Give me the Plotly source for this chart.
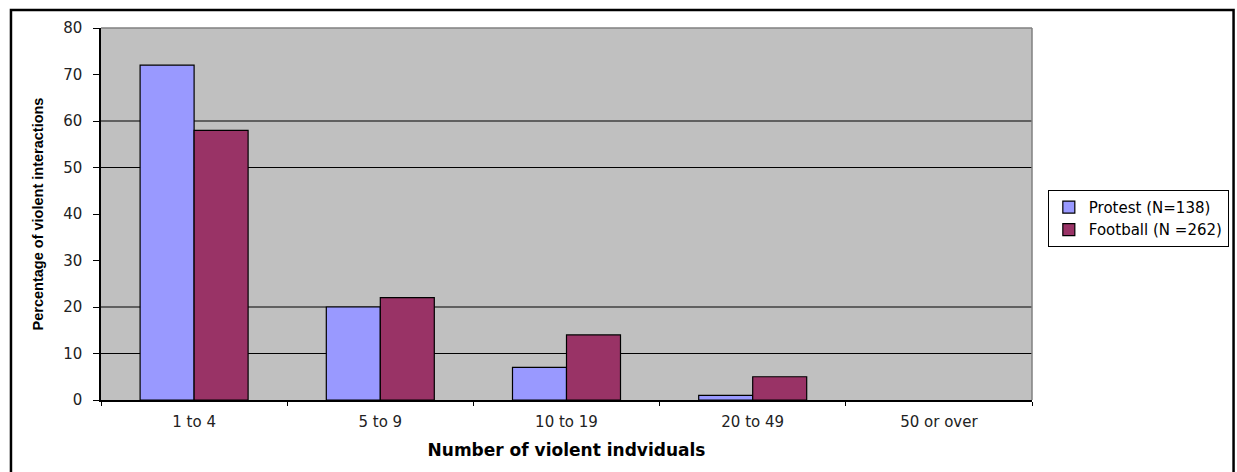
import plotly.graph_objects as go

categories = ["1 to 4", "5 to 9", "10 to 19", "20 to 49", "50 or over"]
protest = [72, 20, 7, 1, 0]
football = [58, 22, 14, 5, 0]
series_names = ["Protest (N=138)", "Football (N =262)"]
grid_values = [10, 20, 50, 60]
y_ticks = [0, 10, 20, 30, 40, 50, 60, 70, 80]

FONT = "DejaVu Sans, Verdana, sans-serif"


def outline_widths(values):
    return [1.2 if v > 0 else 0 for v in values]


fig = go.Figure()
fig.add_trace(go.Bar(x=categories, y=protest, name=series_names[0],
                     marker=dict(color="#9999FF",
                                 line=dict(color="black", width=outline_widths(protest)))))
fig.add_trace(go.Bar(x=categories, y=football, name=series_names[1],
                     marker=dict(color="#993366",
                                 line=dict(color="black", width=outline_widths(football)))))

shapes = []
for g in grid_values:
    shapes.append(dict(type="line", xref="paper", yref="y", x0=0, x1=1, y0=g, y1=g,
                       line=dict(color="black", width=1), layer="below"))
# top and right edge of the plot area
shapes.append(dict(type="line", xref="paper", yref="paper", x0=0, x1=1, y0=1, y1=1,
                   line=dict(color="#808080", width=1.5)))
shapes.append(dict(type="line", xref="paper", yref="paper", x0=1, x1=1, y0=0, y1=1,
                   line=dict(color="#808080", width=1.5)))
# outer frame
shapes.append(dict(type="rect", xref="paper", yref="paper", x0=-0.0967, x1=1.2165,
                   y0=-0.25, y1=1.0483, line=dict(color="black", width=2.5)))

fig.update_layout(
    width=1237, height=472,
    margin=dict(l=101, r=205, t=28, b=72, autoexpand=False),
    paper_bgcolor="white",
    plot_bgcolor="#C0C0C0",
    barmode="group",
    bargap=0.42,
    bargroupgap=0,
    font=dict(family=FONT, size=13, color="black"),
    shapes=shapes,
    legend=dict(x=1.017, y=0.565, xanchor="left", yanchor="top",
                bordercolor="black", borderwidth=1, bgcolor="white",
                font=dict(family=FONT, size=15), itemwidth=30,
                tracegroupgap=0),
    xaxis=dict(
        showline=True, linecolor="black", linewidth=1.5,
        ticks="outside", tickson="boundaries", ticklen=4, tickcolor="black",
        tickfont=dict(family=FONT, size=15, color="#222222"),
        ticklabelstandoff=7,
        title=dict(text="<b>Number of violent indviduals</b>",
                   font=dict(family=FONT, size=17), standoff=14),
        showgrid=False,
    ),
    yaxis=dict(
        range=[0, 80], tickvals=y_ticks,
        showline=True, linecolor="black", linewidth=1.5,
        ticks="outside", ticklen=6, tickcolor="black",
        tickfont=dict(family=FONT, size=15, color="#222222"),
        ticklabelstandoff=8,
        showgrid=False, zeroline=False,
        title=dict(text="<b>Percentage of violent interactions</b>",
                   font=dict(family="Liberation Sans, Arial", size=14.5),
                   standoff=16),
    ),
    showlegend=True,
)

fig.write_html("out.html")
